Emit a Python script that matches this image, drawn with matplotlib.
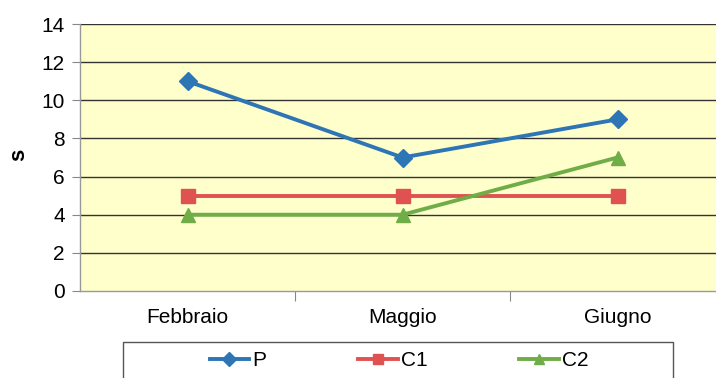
import matplotlib
matplotlib.use("Agg")
import matplotlib.pyplot as plt
from matplotlib.patches import Rectangle
from matplotlib.lines import Line2D

months = ["Febbraio", "Maggio", "Giugno"]
p_vals = [11, 7, 9]
c1_vals = [5, 5, 5]
c2_vals = [4, 4, 7]
y_ticks = [0, 2, 4, 6, 8, 10, 12, 14]

W, H = 716, 378
plt.rcParams["font.family"] = ["Liberation Sans", "DejaVu Sans"]
fig = plt.figure(figsize=(W / 100, H / 100), dpi=100)
fig.patch.set_facecolor("white")

# plot area in pixel coordinates (left, top, right, bottom)
L, T, R, B = 80, 24, 725, 291
ax = fig.add_axes([L / W, (H - B) / H, (R - L) / W, (B - T) / H])
ax.set_facecolor("#FFFFCC")

x = range(len(months))
series = [
    ("P", p_vals, "#2E75B6", "D", 9),
    ("C1", c1_vals, "#E05252", "s", 10.5),
    ("C2", c2_vals, "#70AD47", "^", 10),
]
for name, vals, col, mk, ms in series:
    ax.plot(x, vals, color=col, lw=2.8, marker=mk, ms=ms, mec=col, mfc=col,
            zorder=3, clip_on=False)

ax.set_xlim(-0.5, 2.5)
ax.set_ylim(0, 14)
ax.set_yticks(y_ticks)
for yv in y_ticks[1:]:
    ax.axhline(yv, color="#333333", lw=1.0, zorder=1)

ax.set_xticks([0.5, 1.5], minor=False)
ax.set_xticklabels([])
ax.set_xticks(list(x), minor=True)
ax.set_xticklabels(months, minor=True)
ax.tick_params(axis="x", which="major", length=7, color="#888888", direction="out")
ax.tick_params(axis="x", which="minor", length=0, pad=12, labelsize=15)
ax.tick_params(axis="y", length=6, color="#888888", labelsize=15, pad=5)

for side in ["top", "right"]:
    ax.spines[side].set_visible(False)
for side in ["left", "bottom"]:
    ax.spines[side].set_color("#999999")
    ax.spines[side].set_linewidth(1.0)

fig.text(19 / W, 1 - 155 / H, "s", rotation=90, fontsize=16, fontweight="bold",
         ha="center", va="center")

# legend frame
fig.patches.append(Rectangle((123 / W, -0.05), (673 - 123) / W, (H - 342) / H + 0.05,
                             transform=fig.transFigure, fill=False,
                             edgecolor="#555555", lw=1.0))

handles = [Line2D([], [], color=c, lw=2.8, marker=m, ms=ms * 0.75, mec=c, mfc=c)
           for _, _, c, m, ms in series]
fig.legend(handles, [s[0] for s in series], loc="center",
           bbox_to_anchor=(399 / W, 1 - 361 / H), ncol=3, frameon=False,
           fontsize=15, handlelength=1.9, handletextpad=0.15, columnspacing=4.4)

fig.savefig("out.png", dpi=100)
